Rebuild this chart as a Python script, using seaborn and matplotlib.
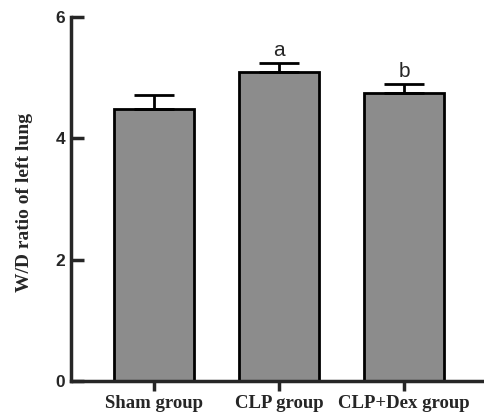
import numpy as np
import pandas as pd
import seaborn as sns
import matplotlib.pyplot as plt

# Values
groups = ['Sham group', 'CLP group', 'CLP+Dex group']
wd_mean = [4.48, 5.09, 4.74]
wd_sd = [0.23, 0.16, 0.16]
sig_labels = ['', 'a', 'b']

df = pd.DataFrame({'group': groups, 'wd': wd_mean})

sns.set_style('ticks')
plt.rcParams['font.family'] = ['Liberation Sans', 'DejaVu Sans']

fig = plt.figure(figsize=(4.84, 4.18), dpi=100)
ax = fig.add_axes([71 / 484, 1 - 381 / 418, 413 / 484, 364 / 418])

sns.barplot(data=df, x='group', y='wd', color='#8c8c8c', saturation=1,
            width=0.64, edgecolor='black', linewidth=2.0, errorbar=None, ax=ax)

# upper-only error bars
ax.errorbar(range(len(groups)), wd_mean, yerr=[np.zeros(len(groups)), wd_sd],
            fmt='none', ecolor='black', elinewidth=2.0, capsize=14.5, capthick=2.0)

for i, lab in enumerate(sig_labels):
    if lab:
        ax.annotate(lab, (i, wd_mean[i] + wd_sd[i]), xytext=(0, 2),
                    textcoords='offset points', ha='center', va='bottom',
                    fontsize=15, family='Liberation Sans')

ax.set_xlim(-0.664, 2.64)
ax.set_ylim(0, 6)
ax.set_yticks([0, 2, 4, 6])
sns.despine(ax=ax)
for s in ['left', 'bottom']:
    ax.spines[s].set_linewidth(2.5)

ax.tick_params(axis='y', direction='in', length=9, width=2.5, pad=4, labelsize=12.5)
ax.tick_params(axis='x', direction='out', length=7, width=2.5, pad=3)
for t in ax.get_yticklabels():
    t.set_fontweight('bold')
for t in ax.get_xticklabels():
    t.set_fontfamily('Liberation Serif')
    t.set_fontweight('bold')
    t.set_fontsize(13.5)

ax.set_xlabel('')
ax.set_ylabel('W/D ratio of left lung', family='Liberation Serif',
              fontweight='bold', fontsize=14)
ax.yaxis.set_label_coords(-0.092, 0.49)

fig.savefig('out.png', dpi=100)
